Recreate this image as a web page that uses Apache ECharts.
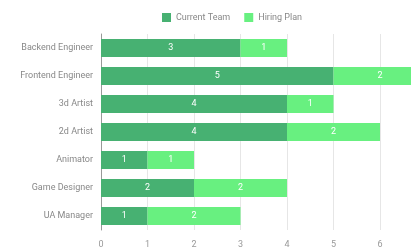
<!DOCTYPE html>
<html>
<head>
<meta charset="utf-8">
<script src="https://cdn.jsdelivr.net/npm/echarts@6/dist/echarts.min.js"></script>
<style>
  html, body { margin: 0; padding: 0; background: #fff; }
  #chart { width: 411px; height: 252px; }
</style>
</head>
<body>
<div id="chart"></div>
<script>
const roles = [
  "Backend Engineer",
  "Frontend Engineer",
  "3d Artist",
  "2d Artist",
  "Animator",
  "Game Designer",
  "UA Manager"
];
const currentTeam = [3, 5, 4, 4, 1, 2, 1];
const hiringPlan = [1, 2, 1, 2, 1, 2, 2];
const xTicks = [0, 1, 2, 3, 4, 5, 6];

const chart = echarts.init(document.getElementById("chart"));

const barLabel = {
  show: true,
  position: "inside",
  color: "#fff",
  fontSize: 9,
  fontFamily: "Roboto"
};

const option = {
  animation: false,
  textStyle: { fontFamily: "Roboto" },
  legend: {
    top: 8,
    left: 157,
    itemWidth: 9,
    itemHeight: 9,
    itemGap: 14,
    icon: "rect",
    textStyle: { color: "#888", fontSize: 9 },
    data: ["Current Team", "Hiring Plan"]
  },
  grid: {
    left: 101,
    right: 31,
    top: 34,
    bottom: 22,
    containLabel: false
  },
  xAxis: {
    type: "value",
    min: xTicks[0],
    max: xTicks[xTicks.length - 1],
    interval: 1,
    axisLine: { show: false },
    axisTick: { show: false },
    axisLabel: { color: "#999", fontSize: 9, margin: 10 },
    splitLine: { lineStyle: { color: "#e6e6e6" } }
  },
  yAxis: {
    type: "category",
    inverse: true,
    data: roles,
    axisLine: { show: true, lineStyle: { color: "#999" } },
    axisTick: { show: false },
    axisLabel: { color: "#888", fontSize: 9, margin: 8 }
  },
  series: [
    {
      name: "Current Team",
      type: "bar",
      stack: "total",
      barWidth: 18,
      clip: false,
      data: currentTeam,
      itemStyle: { color: "#47b172" },
      label: barLabel
    },
    {
      name: "Hiring Plan",
      type: "bar",
      stack: "total",
      barWidth: 18,
      clip: false,
      data: hiringPlan,
      itemStyle: { color: "#68f080" },
      label: barLabel
    }
  ]
};

chart.setOption(option);
</script>
</body>
</html>
